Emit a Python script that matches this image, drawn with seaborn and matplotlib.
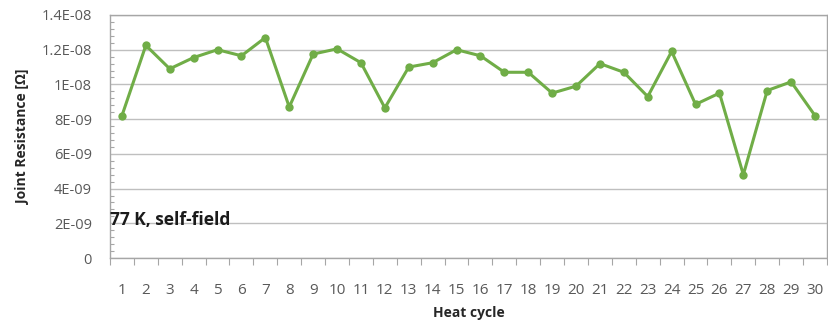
import numpy as np
import pandas as pd
import matplotlib
matplotlib.use("Agg")
import matplotlib.pyplot as plt
import seaborn as sns
from matplotlib.ticker import MultipleLocator, FixedLocator

# Heat cycle number and joint resistance (ohm)
cycles = list(range(1, 31))
resistance = [
    8.2e-9, 12.25e-9, 10.9e-9, 11.55e-9, 12.0e-9, 11.65e-9, 12.7e-9, 8.7e-9,
    11.75e-9, 12.05e-9, 11.25e-9, 8.65e-9, 11.0e-9, 11.25e-9, 12.0e-9, 11.65e-9,
    10.7e-9, 10.7e-9, 9.5e-9, 9.9e-9, 11.2e-9, 10.7e-9, 9.3e-9, 11.9e-9,
    8.85e-9, 9.5e-9, 4.8e-9, 9.65e-9, 10.15e-9, 8.2e-9,
]
y_ticks = [0, 2e-9, 4e-9, 6e-9, 8e-9, 1e-8, 1.2e-8, 1.4e-8]
y_tick_labels = ["0", "2E-09", "4E-09", "6E-09", "8E-09", "1E-08", "1.2E-08", "1.4E-08"]

df = pd.DataFrame({"cycle": cycles, "resistance": resistance})

sns.set_theme(style="white")
plt.rcParams["font.family"] = ["Open Sans", "DejaVu Sans"]

green = "#70AD47"
grey_txt = "#595959"
grid_col = "#BFBFBF"

fig = plt.figure(figsize=(8.29, 3.23), dpi=100)
ax = fig.add_axes([110 / 829, 1 - 258 / 323, 717 / 829, 243 / 323])

sns.lineplot(data=df, x="cycle", y="resistance", ax=ax, color=green,
             linewidth=2.2, marker="o", markersize=6, markeredgewidth=0)

ax.set_xlim(0.5, 30.5)
ax.set_ylim(0, 1.4e-8)
ax.set_yticks(y_ticks)
ax.set_yticklabels(y_tick_labels)
ax.yaxis.set_minor_locator(MultipleLocator(4e-10))
ax.set_xticks(cycles)
ax.xaxis.set_minor_locator(FixedLocator(np.arange(0.5, 31, 1)))

ax.grid(axis="y", which="major", color=grid_col, linewidth=1.0)
ax.set_axisbelow(True)
for side in ["top", "right", "left", "bottom"]:
    ax.spines[side].set_color("#A6A6A6")
    ax.spines[side].set_linewidth(1.0)

ax.tick_params(axis="y", which="major", length=0, pad=13, labelsize=10.5, labelcolor=grey_txt)
ax.tick_params(axis="y", which="minor", left=True, direction="in", length=3, color="#A6A6A6", width=0.8)
ax.tick_params(axis="x", which="major", length=0, pad=18, labelsize=11, labelcolor=grey_txt)
ax.tick_params(axis="x", which="minor", bottom=True, direction="out", length=5, color="#A6A6A6", width=0.8)

ax.set_xlabel("Heat cycle", fontsize=10, fontweight="bold", color="#262626", labelpad=6)
ax.set_ylabel("Joint Resistance [Ω]", fontsize=10, fontweight="bold", color="#262626", labelpad=8)

ax.text(0.0, 0.155, "77 K, self-field", transform=ax.transAxes, fontsize=12.5,
        fontweight="bold", color="#1a1a1a", ha="left", va="center")

fig.savefig("out.png", dpi=100)
